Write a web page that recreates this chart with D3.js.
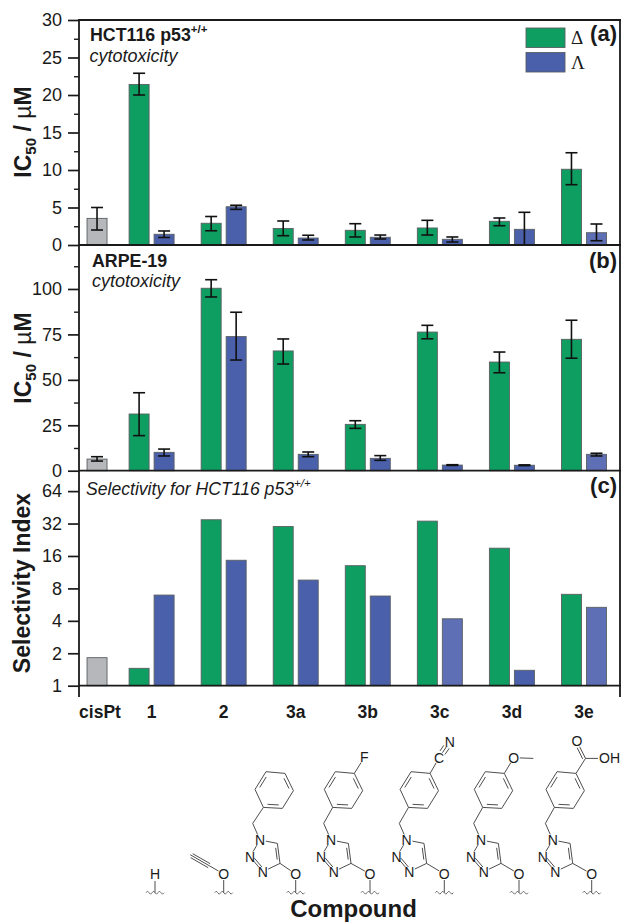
<!DOCTYPE html>
<html>
<head>
<meta charset="utf-8">
<script src="https://cdn.jsdelivr.net/npm/d3@7"></script>
<style>
  html, body { margin: 0; padding: 0; background: #fff; }
  svg { display: block; }
  text { font-family: "Liberation Sans", Arial, sans-serif; fill: #1a1a1a; }
</style>
</head>
<body>
<svg id="chart" width="621" height="922"></svg>
<script>
// Dados (cisPt fica na primeira posição, sem enantiómero Λ)
const compounds = ["cisPt", "1", "2", "3a", "3b", "3c", "3d", "3e"];
const series = ["Δ", "Λ"];

const hctDelta    = [3.55, 21.4, 2.9, 2.2, 1.96, 2.27, 3.16, 10.1];
const hctDeltaUp  = [5.0, 22.9, 3.8, 3.2, 2.84, 3.29, 3.6, 12.3];
const hctDeltaLow = [2.0, 20.0, 1.9, 1.24, 1.07, 1.33, 2.57, 8.04];
const hctLambda    = [null, 1.43, 5.1, 0.93, 1.03, 0.76, 2.09, 1.64];
const hctLambdaUp  = [null, 1.87, 5.3, 1.3, 1.33, 1.07, 4.36, 2.8];
const hctLambdaLow = [null, 1.0, 4.75, 0.67, 0.8, 0.4, 0, 0.57];

const arpeDelta    = [6.4, 31.2, 100.4, 65.9, 25.5, 76.3, 59.8, 72.3];
const arpeDeltaUp  = [7.7, 42.9, 105.1, 72.5, 27.5, 80, 65.3, 82.8];
const arpeDeltaLow = [5.3, 19.3, 95.6, 58.7, 23.3, 72.6, 53.9, 61.9];
const arpeLambda    = [null, 10.1, 73.8, 9, 6.8, 3.1, 3, 9];
const arpeLambdaUp  = [null, 11.9, 87.2, 10.3, 8.3, 3.3, 3.2, 9.6];
const arpeLambdaLow = [null, 8.1, 60.9, 7.7, 5.7, 2.9, 2.8, 8.1];

const siDelta  = [1.82, 1.45, 34.7, 30, 13, 33.7, 18.9, 7.05];
const siLambda = [null, 6.94, 14.6, 9.56, 6.8, 4.18, 1.39, 5.34];

const hctTicks = [0, 5, 10, 15, 20, 25, 30];
const hctMinorTicks = [2.5, 7.5, 12.5, 17.5, 22.5, 27.5];
const arpeTicks = [0, 25, 50, 75, 100];
const arpeMinorTicks = [12.5, 37.5, 62.5, 87.5, 112.5];
const siTicks = [1, 2, 4, 8, 16, 32, 64];

const colors = { "Δ": "#0f9e61", "Λ": "#4a60ab", cisPt: "#b5b7bb" };
const paleLambda = "#5f6fb5";

const svg = d3.select("#chart");
const axisX = 79, rightX = 620;

// Escalas
const x = d3.scaleBand().domain(compounds).range([43.5, 620]);
const inner = d3.scaleBand().domain(series).range([-25, 25]).paddingInner(0.2).paddingOuter(0.1);
const cisPtShift = 17.5;

const yHct = d3.scaleLinear().domain([0, 30]).range([245, 20]);
const yArpe = d3.scaleLinear().domain([0, 124.2]).range([470.7, 245]);
const ySi = d3.scaleLog().base(2).domain([1, 99]).range([685.7, 470.7]);

function barCenter(i, s) {
  const c = compounds[i];
  const mid = x(c) + x.bandwidth() / 2;
  if (c === "cisPt") return mid + cisPtShift;
  return mid + inner(s) + inner.bandwidth() / 2;
}

// Desenha as barras (e barras de erro, se existirem) de um painel
function drawBars(y, s, values, up, low, isPale) {
  const g = svg.append("g");
  const rows = values
    .map((v, i) => ({ v, i, up: up ? up[i] : null, low: low ? low[i] : null }))
    .filter(d => d.v !== null);

  g.selectAll("rect").data(rows).join("rect")
    .attr("x", d => barCenter(d.i, s) - inner.bandwidth() / 2)
    .attr("width", inner.bandwidth())
    .attr("y", d => y(d.v))
    .attr("height", d => y.range()[0] - y(d.v))
    .attr("fill", d => compounds[d.i] === "cisPt" ? colors.cisPt : (isPale && isPale(compounds[d.i]) ? paleLambda : colors[s]))
    .attr("stroke", "#5a5f63")
    .attr("stroke-width", 0.9);

  if (!up) return;
  const half = 6;
  const err = g.selectAll("g.err").data(rows).join("g").attr("class", "err")
    .attr("stroke", "#111").attr("stroke-width", 1.6);
  err.append("line")
    .attr("x1", d => barCenter(d.i, s)).attr("x2", d => barCenter(d.i, s))
    .attr("y1", d => y(d.up)).attr("y2", d => y(d.low));
  err.append("line")
    .attr("x1", d => barCenter(d.i, s) - half).attr("x2", d => barCenter(d.i, s) + half)
    .attr("y1", d => y(d.up)).attr("y2", d => y(d.up));
  err.filter(d => d.low > 0).append("line")
    .attr("x1", d => barCenter(d.i, s) - half).attr("x2", d => barCenter(d.i, s) + half)
    .attr("y1", d => y(d.low)).attr("y2", d => y(d.low));
}

drawBars(yHct, "Δ", hctDelta, hctDeltaUp, hctDeltaLow);
drawBars(yHct, "Λ", hctLambda, hctLambdaUp, hctLambdaLow, c => c === "3e");
drawBars(yArpe, "Δ", arpeDelta, arpeDeltaUp, arpeDeltaLow);
drawBars(yArpe, "Λ", arpeLambda, arpeLambdaUp, arpeLambdaLow, c => c === "3e");
drawBars(ySi, "Δ", siDelta);
drawBars(ySi, "Λ", siLambda, null, null, c => c === "3c" || c === "3e");

// Eixos
function drawAxis(y, ticks, minor, fmt) {
  const g = svg.append("g").attr("transform", `translate(${axisX},0)`);
  const major = g.append("g").call(d3.axisLeft(y).tickValues(ticks).tickSize(11).tickPadding(6).tickFormat(fmt));
  major.select(".domain").remove();
  major.selectAll("line").attr("stroke", "#1a1a1a").attr("stroke-width", 1.7);
  major.selectAll("text").attr("font-size", 18).attr("fill", "#1a1a1a")
    .style("font-family", '"Liberation Sans", Arial, sans-serif');
  if (minor) {
    const m = g.append("g").call(d3.axisLeft(y).tickValues(minor).tickSize(5).tickFormat(""));
    m.select(".domain").remove();
    m.selectAll("line").attr("stroke", "#1a1a1a").attr("stroke-width", 1.4);
  }
}
drawAxis(yHct, hctTicks, hctMinorTicks, d3.format("d"));
drawAxis(yArpe, arpeTicks, arpeMinorTicks, d3.format("d"));
drawAxis(ySi, siTicks, null, d3.format("d"));

// Moldura e linhas de base
const frame = svg.append("g").attr("stroke", "#1a1a1a").attr("stroke-width", 1.8);
frame.append("line").attr("x1", axisX).attr("x2", axisX).attr("y1", 19).attr("y2", 697);
frame.append("line").attr("x1", rightX).attr("x2", rightX).attr("y1", 19).attr("y2", 697);
frame.append("line").attr("x1", axisX).attr("x2", rightX + 1).attr("y1", 20).attr("y2", 20);
[yHct(0), yArpe(0), ySi(1)].forEach(v => {
  frame.append("line").attr("x1", axisX).attr("x2", rightX + 1).attr("y1", v).attr("y2", v);
});

// Rótulos do eixo x
svg.append("g").selectAll("text").data(compounds).join("text")
  .attr("x", d => x(d) + x.bandwidth() / 2 + (d === "cisPt" ? 20.5 : 0))
  .attr("y", 718)
  .attr("text-anchor", "middle")
  .attr("font-size", 17.5)
  .attr("font-weight", "bold")
  .text(d => d);

// Títulos dos eixos
function icTitle(cy) {
  const t = svg.append("text")
    .attr("transform", `translate(30.5,${cy}) rotate(-90)`)
    .attr("text-anchor", "middle")
    .attr("font-size", 23)
    .attr("font-weight", "bold");
  t.append("tspan").text("IC");
  t.append("tspan").attr("font-size", 15).attr("dy", 5).text("50");
  t.append("tspan").attr("dy", -5).text(" / ");
  t.append("tspan").attr("font-weight", "normal").text("µ");
  t.append("tspan").text("M");
}
icTitle(132);
icTitle(358);
svg.append("text")
  .attr("transform", "translate(30,583) rotate(-90)")
  .attr("text-anchor", "middle")
  .attr("font-size", 23)
  .attr("font-weight", "bold")
  .text("Selectivity Index");
svg.append("text")
  .attr("x", 353.5).attr("y", 916.5)
  .attr("text-anchor", "middle")
  .attr("font-size", 24)
  .attr("font-weight", "bold")
  .text("Compound");

// Anotações dos painéis
function note(px, py, txt, opts) {
  return svg.append("text").attr("x", px).attr("y", py)
    .attr("font-size", opts.size || 18)
    .attr("font-weight", opts.bold ? "bold" : "normal")
    .attr("font-style", opts.italic ? "italic" : "normal")
    .attr("text-anchor", opts.anchor || "start")
    .text(txt);
}
note(90, 40.7, "HCT116 p53", { bold: true, size: 17.8 })
  .append("tspan").attr("font-size", 11.5).attr("dy", -8).text("+/+");
note(89.5, 61.7, "cytotoxicity", { italic: true });
note(92, 267.3, "ARPE-19", { bold: true, size: 17.8 });
note(92, 287, "cytotoxicity", { italic: true });
note(86, 495, "Selectivity for HCT116 p53", { italic: true, size: 17.6 })
  .append("tspan").attr("font-size", 11.5).attr("dy", -8).text("+/+");
note(617, 41, "(a)", { bold: true, size: 22, anchor: "end" });
note(617, 268, "(b)", { bold: true, size: 22, anchor: "end" });
note(617, 492.7, "(c)", { bold: true, size: 22, anchor: "end" });

// Legenda
const legend = svg.append("g").selectAll("g").data(series).join("g")
  .attr("transform", (d, i) => `translate(526,${28 + i * 24.5})`);
legend.append("rect").attr("width", 39).attr("height", 19.5)
  .attr("fill", d => colors[d]).attr("stroke", "#5a5f63").attr("stroke-width", 0.9);
legend.append("text").attr("x", 45).attr("y", 16)
  .attr("font-size", 19)
  .style("font-family", '"Liberation Serif", serif')
  .text(d => d);

// Estruturas químicas (coordenadas relativas ao traço ondulado de cada composto)
const chemX = { H: 155, alkyne: 223.7, "3a": 295.7, "3b": 370, "3c": 444.3, "3d": 519, "3e": 591.7 };
const chemY = 892.7;

function chemGroup(cx) {
  const g = svg.append("g").attr("transform", `translate(${cx},${chemY})`)
    .attr("stroke", "#444").attr("stroke-width", 0.95).attr("fill", "none");
  // ligação cortada
  g.append("path").attr("d", "M-9,0q1.5,-3 3,0t3,0t3,0t3,0t3,0t3,0").attr("stroke-width", 0.8);
  return g;
}
function bond(g, a, b, trimA = 0, trimB = 0) {
  const dx = b[0] - a[0], dy = b[1] - a[1], len = Math.hypot(dx, dy);
  g.append("line")
    .attr("x1", a[0] + dx * trimA / len).attr("y1", a[1] + dy * trimA / len)
    .attr("x2", b[0] - dx * trimB / len).attr("y2", b[1] - dy * trimB / len);
}
function inner2(g, a, b, c) {
  // segunda linha da ligação dupla, puxada para o centro c
  const k = 0.18, s = 0.14;
  const p = [a[0] + (c[0] - a[0]) * k, a[1] + (c[1] - a[1]) * k];
  const q = [b[0] + (c[0] - b[0]) * k, b[1] + (c[1] - b[1]) * k];
  const dx = q[0] - p[0], dy = q[1] - p[1];
  g.append("line").attr("x1", p[0] + dx * s).attr("y1", p[1] + dy * s)
    .attr("x2", q[0] - dx * s).attr("y2", q[1] - dy * s);
}
function atom(g, px, py, label, anchor = "middle") {
  g.append("text").attr("x", px).attr("y", py + 5)
    .attr("text-anchor", anchor).attr("font-size", 14)
    .attr("stroke", "none").attr("fill", "#222").text(label);
}

// triDx e ringDx: deslocamentos do triazol e do anel em cada composto
function triazoleBenzyl(g, triDx = 0, ringDx = 0) {
  const O = [0, -18.7];
  const [C4, C5, N1, N2, N3, CH2] = [[-15.7, -29.3], [-18.3, -49.3], [-35.7, -52.7],
    [-45.7, -36], [-33, -21], [-43, -69.3]].map(p => [p[0] + triDx, p[1]]);
  const ring = [[-32.3, -85.3], [-13.3, -84.3], [-2.3, -102], [-10.7, -119.3], [-29.7, -121], [-40.7, -103.3]]
    .map(p => [p[0] + ringDx, p[1]]);
  const triCenter = [-29.5 + triDx, -37.5], ringCenter = [-21.5 + ringDx, -103];

  bond(g, [0, 0], O, 0, 6);
  bond(g, O, C4, 6, 0);
  bond(g, C4, C5);
  inner2(g, C4, C5, triCenter);
  bond(g, C5, N1, 0, 6);
  bond(g, N1, N2, 6, 6);
  bond(g, N2, N3, 6, 6);
  inner2(g, N2, N3, triCenter);
  bond(g, N3, C4, 6, 0);
  bond(g, N1, CH2, 6, 0);
  bond(g, CH2, ring[0]);
  ring.forEach((p, i) => bond(g, p, ring[(i + 1) % 6]));
  [0, 2, 4].forEach(i => inner2(g, ring[i], ring[(i + 1) % 6], ringCenter));

  atom(g, O[0], O[1], "O");
  atom(g, N1[0], N1[1], "N");
  atom(g, N2[0], N2[1], "N");
  atom(g, N3[0], N3[1], "N");
  return ring[3];
}

// H
let m = chemGroup(chemX.H);
bond(m, [0, 0], [0, -18.7], 0, 7);
atom(m, 0, -18.7, "H");

// alcino
m = chemGroup(chemX.alkyne);
bond(m, [0, 0], [0, -18.7], 0, 6);
atom(m, 0, -18.7, "O");
bond(m, [0, -18.7], [-14.5, -27], 6, 0);
bond(m, [-14.5, -27], [-33.5, -38]);
bond(m, [-13.5, -29], [-31, -39]);
bond(m, [-15.5, -25], [-33, -35]);

// 3a
triazoleBenzyl(chemGroup(chemX["3a"]));

// 3b: flúor
m = chemGroup(chemX["3b"]);
let para = triazoleBenzyl(m, -3.3, -5);
bond(m, para, [para[0] + 10, para[1] - 16], 0, 6);
atom(m, para[0] + 10, para[1] - 16, "F");

// 3c: nitrilo
m = chemGroup(chemX["3c"]);
para = triazoleBenzyl(m, -2, -3.5);
bond(m, para, [para[0] + 9, para[1] - 15.7], 0, 6);
atom(m, para[0] + 9, para[1] - 15.7, "C");
atom(m, para[0] + 19.7, para[1] - 31.7, "N");
bond(m, [para[0] + 9, para[1] - 15.7], [para[0] + 19.7, para[1] - 31.7], 6, 6);
bond(m, [para[0] + 6.5, para[1] - 17.5], [para[0] + 17, para[1] - 33], 6, 6);
bond(m, [para[0] + 11.5, para[1] - 14], [para[0] + 22.5, para[1] - 30], 6, 6);

// 3d: metoxilo
m = chemGroup(chemX["3d"]);
para = triazoleBenzyl(m, -2.3, -4);
bond(m, para, [para[0] + 9.5, para[1] - 15.7], 0, 6);
atom(m, para[0] + 9.5, para[1] - 15.7, "O");
bond(m, [para[0] + 9.5, para[1] - 15.7], [para[0] + 29, para[1] - 15], 6, 0);

// 3e: ácido carboxílico
m = chemGroup(chemX["3e"]);
para = triazoleBenzyl(m, -3.3, -5);
const carb = [para[0] + 9.5, para[1] - 15];
bond(m, para, carb);
bond(m, carb, [carb[0] - 8.5, carb[1] - 17], 0, 6);
bond(m, [carb[0] - 2.8, carb[1] + 0.5], [carb[0] - 11, carb[1] - 16], 0, 6);
atom(m, carb[0] - 8.5, carb[1] - 17, "O");
bond(m, carb, [carb[0] + 12.5, carb[1]]);
atom(m, carb[0] + 13.5, carb[1], "OH", "start");
</script>
</body>
</html>
